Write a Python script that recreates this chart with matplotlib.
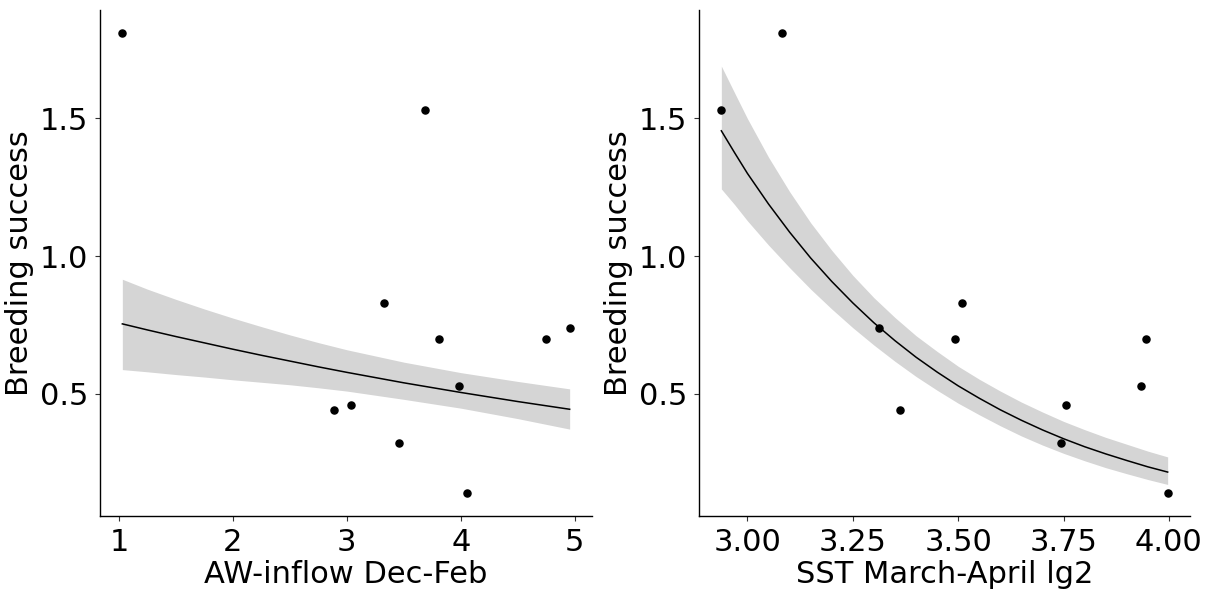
"""
Breeding success against AW-inflow (Dec-Feb) and lagged SST (March-April),
with fitted log-link curves and their confidence bands.
"""

import matplotlib
matplotlib.use('Agg')
import matplotlib.pyplot as plt
from matplotlib.ticker import FixedLocator

plt.rcParams['font.family'] = ['DejaVu Sans']

# Observed breeding success (same 11 years in both panels)
aw_inflow = [1.03, 3.687, 3.326, 3.811, 4.955, 4.744, 3.986, 2.89, 3.037, 3.455, 4.057]
sst_lag2 = [3.082, 2.938, 3.508, 3.493, 3.313, 3.945, 3.934, 3.363, 3.756, 3.745, 3.997]
success = [1.81, 1.53, 0.83, 0.70, 0.74, 0.70, 0.53, 0.44, 0.46, 0.32, 0.14]

# Fitted curve and band, left panel
aw_fit_x = [1.03, 1.25, 1.5, 1.75, 2.0, 2.25, 2.5, 2.75, 3.0, 3.5, 4.0, 4.5, 4.955]
aw_fit = [0.754, 0.732, 0.708, 0.685, 0.662, 0.640, 0.619, 0.598, 0.578, 0.540,
          0.505, 0.472, 0.444]
aw_upper = [0.916, 0.880, 0.843, 0.808, 0.775, 0.744, 0.714, 0.686, 0.660, 0.615,
            0.577, 0.545, 0.518]
aw_lower = [0.588, 0.580, 0.570, 0.561, 0.551, 0.542, 0.533, 0.522, 0.510, 0.480,
            0.448, 0.410, 0.372]

# Fitted curve and band, right panel
sst_fit_x = [2.938, 2.97, 3.0, 3.05, 3.1, 3.15, 3.2, 3.25, 3.3, 3.35, 3.4, 3.45,
             3.5, 3.55, 3.6, 3.65, 3.7, 3.75, 3.8, 3.85, 3.9, 3.95, 3.997]
sst_fit = [1.455, 1.374, 1.300, 1.189, 1.087, 0.993, 0.908, 0.830, 0.758, 0.693,
           0.633, 0.579, 0.529, 0.484, 0.442, 0.404, 0.369, 0.337, 0.308, 0.282,
           0.258, 0.235, 0.216]
sst_upper = [1.690, 1.591, 1.499, 1.359, 1.234, 1.121, 1.021, 0.930, 0.849, 0.777,
             0.711, 0.654, 0.600, 0.553, 0.510, 0.470, 0.434, 0.400, 0.370, 0.342,
             0.317, 0.292, 0.271]
sst_lower = [1.244, 1.186, 1.128, 1.040, 0.958, 0.880, 0.808, 0.740, 0.677, 0.618,
             0.563, 0.513, 0.466, 0.424, 0.384, 0.347, 0.314, 0.284, 0.257, 0.232,
             0.210, 0.189, 0.171]

y_ticks = [0.5, 1.0, 1.5]
aw_ticks = [1, 2, 3, 4, 5]
sst_ticks = [3.00, 3.25, 3.50, 3.75, 4.00]

BAND = '#d5d5d5'
FONTSIZE = 22


def style_axis(ax):
    for side in ('top', 'right'):
        ax.spines[side].set_visible(False)
    for side in ('left', 'bottom'):
        ax.spines[side].set_linewidth(1.0)
        ax.spines[side].set_color('black')
    ax.tick_params(length=3.5, width=0.8, color='0.2', labelsize=FONTSIZE,
                   labelcolor='black', pad=5)
    ax.set_ylim(0.0565, 1.8935)
    ax.yaxis.set_major_locator(FixedLocator(y_ticks))
    ax.set_yticklabels([f'{t:.1f}' for t in y_ticks])
    ax.set_ylabel('Breeding success', fontsize=FONTSIZE, labelpad=4)


fig = plt.figure(figsize=(12.1, 5.92), dpi=100)
ax1 = fig.add_axes([100 / 1210, 76 / 592, 492 / 1210, 506 / 592])
ax2 = fig.add_axes([699 / 1210, 76 / 592, 491 / 1210, 506 / 592])

# Left: AW-inflow
ax1.fill_between(aw_fit_x, aw_lower, aw_upper, color=BAND, linewidth=0)
ax1.plot(aw_fit_x, aw_fit, color='black', linewidth=1.1)
ax1.scatter(aw_inflow, success, s=26, color='black', zorder=3)
ax1.set_xlim(0.834, 5.151)
ax1.xaxis.set_major_locator(FixedLocator(aw_ticks))
ax1.set_xticklabels([str(t) for t in aw_ticks])
ax1.set_xlabel('AW-inflow Dec-Feb', fontsize=FONTSIZE, labelpad=2)
style_axis(ax1)

# Right: SST lag 2
ax2.fill_between(sst_fit_x, sst_lower, sst_upper, color=BAND, linewidth=0)
ax2.plot(sst_fit_x, sst_fit, color='black', linewidth=1.1)
ax2.scatter(sst_lag2, success, s=26, color='black', zorder=3)
ax2.set_xlim(2.885, 4.050)
ax2.xaxis.set_major_locator(FixedLocator(sst_ticks))
ax2.set_xticklabels([f'{t:.2f}' for t in sst_ticks])
ax2.set_xlabel('SST March-April lg2', fontsize=FONTSIZE, labelpad=2)
style_axis(ax2)

fig.savefig('out.png', dpi=100)
plt.close(fig)
